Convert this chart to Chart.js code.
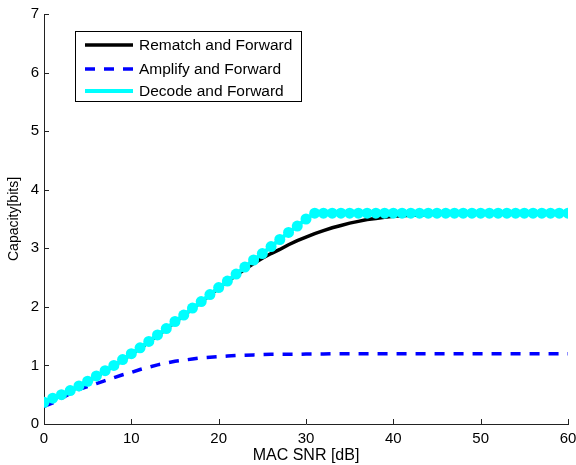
<!DOCTYPE html>
<html>
<head>
<meta charset="utf-8">
<script src="https://cdn.jsdelivr.net/npm/chart.js@4"></script>
<style>
  html, body { margin: 0; padding: 0; background: #fff; }
  #wrap { width: 576px; height: 465px; }
</style>
</head>
<body>
<div id="wrap"><canvas id="c" width="576" height="465"></canvas></div>
<script>
// MAC SNR [dB]
const snr = [];
for (let i = 0; i <= 60; i++) snr.push(i);

// Rematch and Forward
const rematch = [0.36, 0.43, 0.49, 0.56, 0.64, 0.72, 0.81, 0.90, 0.99, 1.09, 1.19,
  1.29, 1.40, 1.51, 1.62, 1.74, 1.85, 1.97, 2.08, 2.20, 2.32,
  2.43, 2.54, 2.64, 2.74, 2.83, 2.91, 2.98, 3.06, 3.13, 3.19,
  3.25, 3.30, 3.35, 3.39, 3.43, 3.46, 3.49, 3.51, 3.53, 3.545,
  3.555, 3.565, 3.57, 3.575, 3.58, 3.58, 3.58, 3.58, 3.58, 3.58,
  3.58, 3.58, 3.58, 3.58, 3.58, 3.58, 3.58, 3.58, 3.58, 3.58];

// Amplify and Forward
const amplify = [0.30, 0.36, 0.44, 0.52, 0.59, 0.64, 0.69, 0.74, 0.79, 0.84, 0.88,
  0.93, 0.97, 1.01, 1.04, 1.07, 1.09, 1.11, 1.13, 1.14, 1.15,
  1.16, 1.17, 1.175, 1.18, 1.185, 1.19, 1.19, 1.19, 1.19, 1.195,
  1.195, 1.195, 1.2, 1.2, 1.2, 1.2, 1.2, 1.2, 1.2, 1.2,
  1.2, 1.2, 1.2, 1.2, 1.2, 1.2, 1.2, 1.2, 1.2, 1.2,
  1.2, 1.2, 1.2, 1.2, 1.2, 1.2, 1.2, 1.2, 1.2, 1.2];

// Decode and Forward
const decode = [0.37, 0.44, 0.50, 0.57, 0.65, 0.73, 0.82, 0.91, 1.00, 1.10, 1.20,
  1.30, 1.41, 1.52, 1.63, 1.75, 1.86, 1.98, 2.09, 2.21, 2.33,
  2.44, 2.56, 2.68, 2.80, 2.91, 3.03, 3.15, 3.27, 3.38, 3.50,
  3.60, 3.60, 3.60, 3.60, 3.60, 3.60, 3.60, 3.60, 3.60, 3.60,
  3.60, 3.60, 3.60, 3.60, 3.60, 3.60, 3.60, 3.60, 3.60, 3.60,
  3.60, 3.60, 3.60, 3.60, 3.60, 3.60, 3.60, 3.60, 3.60, 3.60];

const xTicks = [0, 10, 20, 30, 40, 50, 60];
const yTicks = [0, 1, 2, 3, 4, 5, 6, 7];

const FONT = "'Liberation Sans', Arial, sans-serif";
const AXIS = "#222";

function pts(ys) {
  return snr.map((x, i) => ({ x: x, y: ys[i] }));
}

// ticks pointing inward + boxed legend, matlab style
const matlabBits = {
  id: "matlabBits",
  afterDraw(chart) {
    const ctx = chart.ctx;
    const xs = chart.scales.x, ys = chart.scales.y;
    const a = chart.chartArea;
    ctx.save();
    ctx.strokeStyle = AXIS;
    ctx.lineWidth = 1;
    ctx.beginPath();
    xTicks.forEach((v) => {
      let px = Math.round(xs.getPixelForValue(v)) + 0.5;
      ctx.moveTo(px, a.bottom);
      ctx.lineTo(px, a.bottom - 5);
    });
    yTicks.forEach((v) => {
      let py = Math.round(ys.getPixelForValue(v)) + 0.5;
      ctx.moveTo(a.left, py);
      ctx.lineTo(a.left + 5, py);
    });
    ctx.stroke();

    // legend
    const bx = 75.5, by = 31.5, bw = 226, bh = 70;
    ctx.fillStyle = "#fff";
    ctx.fillRect(bx, by, bw, bh);
    ctx.strokeStyle = "#000";
    ctx.strokeRect(bx, by, bw, bh);
    const rows = [45, 69, 91];
    chart.data.datasets.forEach((ds, i) => {
      ctx.beginPath();
      ctx.strokeStyle = ds.borderColor;
      ctx.lineWidth = ds.borderWidth;
      ctx.setLineDash(ds.borderDash || []);
      ctx.moveTo(85, rows[i]);
      ctx.lineTo(133, rows[i]);
      ctx.stroke();
      ctx.setLineDash([]);
      ctx.fillStyle = "#000";
      ctx.font = "15.5px " + FONT;
      ctx.textBaseline = "middle";
      ctx.textAlign = "left";
      ctx.fillText(ds.label, 139, rows[i] + 1);
    });
    ctx.restore();
  }
};

new Chart(document.getElementById("c"), {
  type: "line",
  data: {
    datasets: [
      {
        label: "Rematch and Forward",
        data: pts(rematch),
        borderColor: "#000000",
        borderWidth: 3.5,
        pointRadius: 0,
        tension: 0,
        order: 3
      },
      {
        label: "Amplify and Forward",
        data: pts(amplify),
        borderColor: "#0000ff",
        borderWidth: 3.5,
        borderDash: [10, 9],
        pointRadius: 0,
        tension: 0,
        order: 2
      },
      {
        label: "Decode and Forward",
        data: pts(decode),
        borderColor: "#00ffff",
        borderWidth: 4,
        pointRadius: 5.5,
        pointBackgroundColor: "#00ffff",
        pointBorderWidth: 0,
        tension: 0,
        order: 1
      }
    ]
  },
  options: {
    responsive: false,
    animation: false,
    layout: { padding: { top: 12, right: 0, left: 0, bottom: 0 } },
    plugins: {
      legend: { display: false },
      tooltip: { enabled: false }
    },
    scales: {
      x: {
        type: "linear",
        min: 0,
        max: 60,
        afterBuildTicks: (s) => { s.ticks = xTicks.map((v) => ({ value: v })); },
        afterFit: (s) => { s.height = 41; s.paddingRight = 8; s.paddingLeft = 0; },
        grid: { display: false, drawTicks: false },
        border: { display: true, color: AXIS, width: 1 },
        ticks: { color: "#000", font: { family: FONT, size: 15 }, padding: 6 },
        title: {
          display: true,
          text: "MAC SNR [dB]",
          color: "#000",
          font: { family: FONT, size: 16 },
          padding: { top: 0, bottom: 0 }
        }
      },
      y: {
        min: 0,
        max: 7,
        afterBuildTicks: (s) => { s.ticks = yTicks.map((v) => ({ value: v })); },
        afterFit: (s) => { s.width = 44; },
        grid: { display: false, drawTicks: false },
        border: { display: true, color: AXIS, width: 1 },
        ticks: { color: "#000", font: { family: FONT, size: 15 }, padding: 5 },
        title: {
          display: true,
          text: "Capacity[bits]",
          color: "#000",
          font: { family: FONT, size: 14 },
          padding: { top: 6, bottom: 0 }
        }
      }
    }
  },
  plugins: [matlabBits]
});
</script>
</body>
</html>
